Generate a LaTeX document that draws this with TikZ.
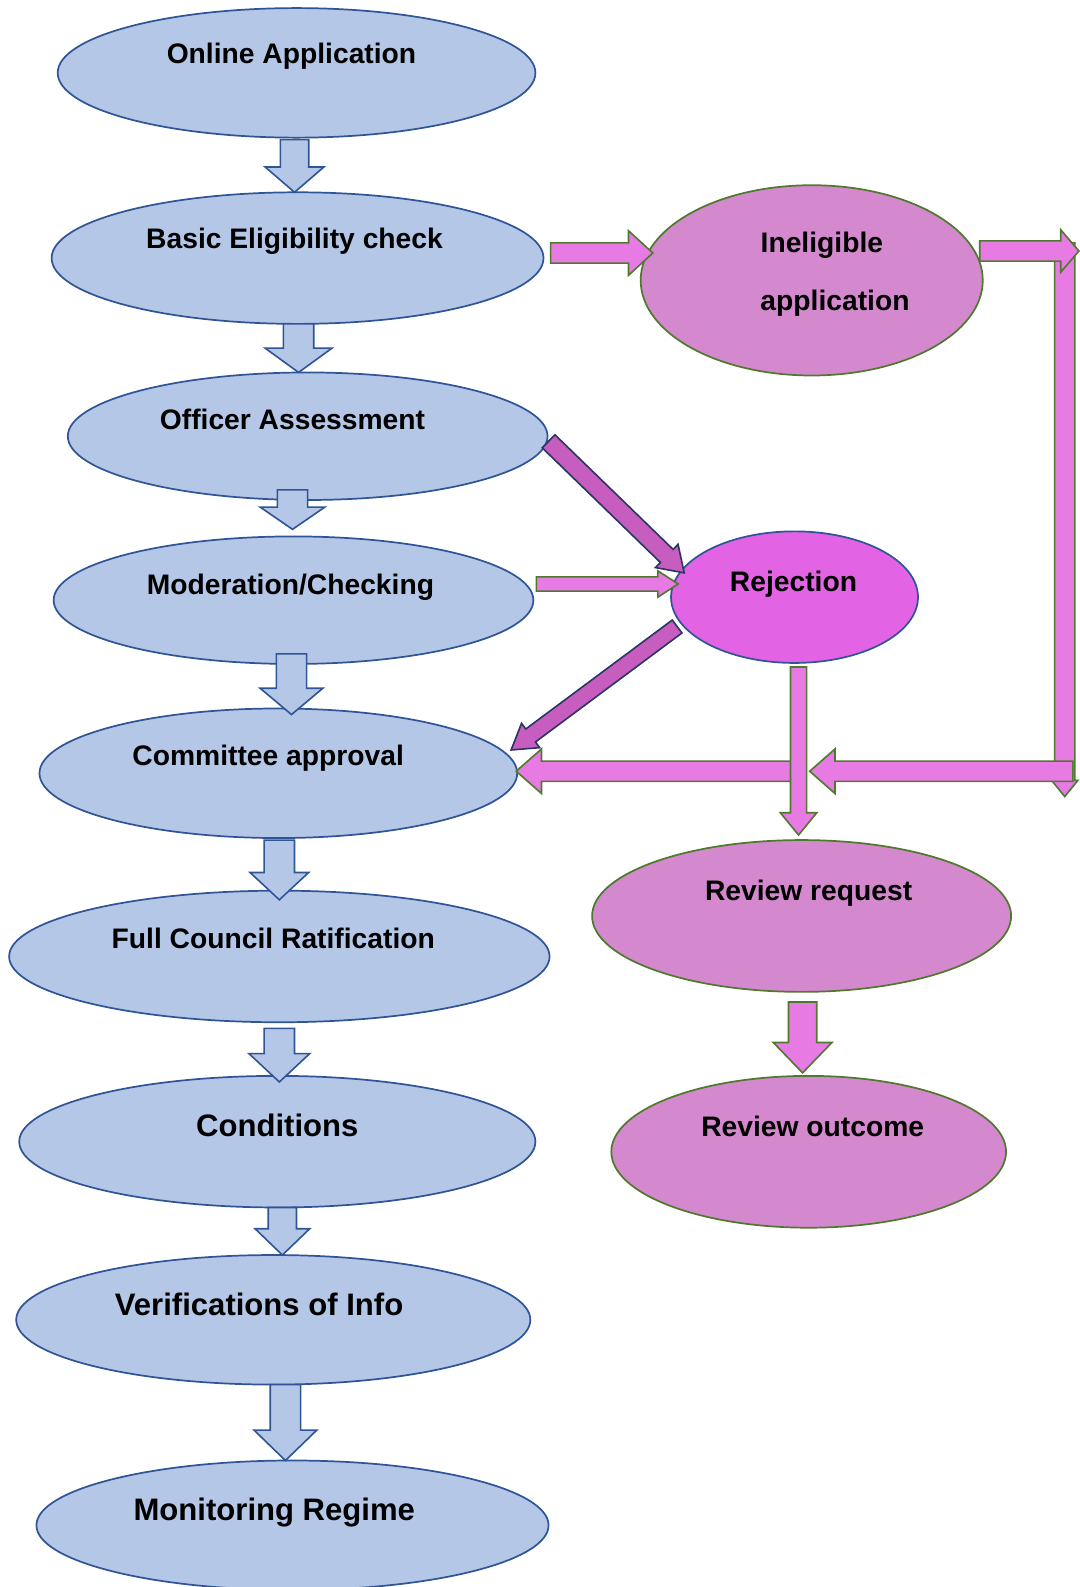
\documentclass[tikz,border=0pt]{standalone}
\usepackage{fontspec}
\setmainfont{Liberation Sans}
\usetikzlibrary{calc,shapes.geometric}
\definecolor{bfill}{HTML}{B4C7E7}
\definecolor{bline}{HTML}{2F5597}
\definecolor{pfill}{HTML}{D488CE}
\definecolor{gline}{HTML}{4F7A2E}
\definecolor{rfill}{HTML}{E263E3}
\definecolor{afill}{HTML}{E77AE3}
\definecolor{dfill}{HTML}{C75DBE}
\definecolor{dline}{HTML}{2B3566}
% block arrow: [style]{start}{end}{shaft half width}{head half width}{head length}
\newcommand\barrow[6][]{%
  \coordinate (ba-n) at ($(#3)!#6!(#2)$);
  \draw[#1] ($(#2)!#4!90:(#3)$) -- ($(ba-n)!#4!90:(#3)$) -- ($(ba-n)!#5!90:(#3)$)
    -- (#3) -- ($(ba-n)!#5!-90:(#3)$) -- ($(ba-n)!#4!-90:(#3)$)
    -- ($(#2)!#4!-90:(#3)$) -- cycle;}
\tikzset{
  bell/.style={ellipse, draw=bline, fill=bfill, line width=1.7pt, inner sep=0pt},
  pell/.style={ellipse, draw=gline, fill=pfill, line width=1.7pt, inner sep=0pt},
  rell/.style={ellipse, draw=bline, fill=rfill, line width=1.7pt, inner sep=0pt},
  txt/.style={font=\bfseries\fontsize{27.9}{30}\selectfont, text height=20pt, text depth=0pt, inner sep=0pt},
  bigtxt/.style={font=\bfseries\fontsize{30.7}{33}\selectfont, text height=22pt, text depth=0pt, inner sep=0pt},
  barr/.style={draw=bline, fill=bfill, line width=1.6pt, line join=miter},
  parr/.style={draw=gline, fill=afill, line width=1.6pt, line join=miter},
  darr/.style={draw=dline, fill=dfill, line width=1.6pt, line join=miter},
}
\begin{document}
\begin{tikzpicture}[x=1pt, y=-1pt]
\useasboundingbox (0,0) rectangle (1067,1568);
% left column ellipses
\node[bell, minimum width=472pt, minimum height=128pt] (e1) at (293,72) {};
\node[bell, minimum width=486pt, minimum height=130pt] (e2) at (294,255) {};
\node[bell, minimum width=474pt, minimum height=126pt] (e3) at (304,431) {};
\node[bell, minimum width=474pt, minimum height=126pt] (e4) at (290,593) {};
\node[bell, minimum width=472pt, minimum height=128pt] (e5) at (275,764) {};
\node[bell, minimum width=534pt, minimum height=130pt] (e6) at (276,945) {};
\node[bell, minimum width=510pt, minimum height=130pt] (e7) at (274,1128) {};
\node[bell, minimum width=508pt, minimum height=128pt] (e8) at (270,1304) {};
\node[bell, minimum width=506pt, minimum height=128pt] (e9) at (289,1507) {};
% right column ellipses
\node[pell, minimum width=338pt, minimum height=188pt] (r1) at (802,277) {};
\node[rell, minimum width=244pt, minimum height=130pt] (r2) at (785,590) {};
\node[pell, minimum width=414pt, minimum height=150pt] (r3) at (792,905) {};
\node[pell, minimum width=390pt, minimum height=150pt] (r4) at (799,1138) {};
% texts
\node[txt] (t1) at (288,53) {Online Application};
\node[txt] (t2) at (291,236) {Basic Eligibility check};
\node[txt] (t3) at (289,414) {Officer Assessment};
\node[txt] (t4) at (287,577) {Moderation/Checking};
\node[txt] (t5) at (265,746) {Committee approval};
\node[txt] (t6) at (270,927) {Full Council Ratification};
\node[bigtxt] (t7) at (274,1112) {Conditions};
\node[bigtxt] (t8) at (256,1289) {Verifications of Info};
\node[bigtxt] (t9) at (271,1491) {Monitoring Regime};
\node[txt] (u1a) at (812,239) {Ineligible};
\node[txt] (u1b) at (825,297) {application};
\node[txt] (u2) at (784,574) {Rejection};
\node[txt] (u3) at (799,880) {Review request};
\node[txt] (u4) at (803,1113) {Review outcome};
% connector end points
\coordinate (a1s) at (291,138);  \coordinate (a1e) at (291,190);
\coordinate (a2s) at (295,320);  \coordinate (a2e) at (295,368);
\coordinate (a3s) at (289,484);  \coordinate (a3e) at (289,523);
\coordinate (a4s) at (288,646);  \coordinate (a4e) at (288,706);
\coordinate (a5s) at (276,830);  \coordinate (a5e) at (276,889);
\coordinate (a6s) at (276,1016); \coordinate (a6e) at (276,1069);
\coordinate (a7s) at (279,1193); \coordinate (a7e) at (279,1240);
\coordinate (a8s) at (282,1368); \coordinate (a8e) at (282,1443);
\coordinate (b1s) at (793,990);  \coordinate (b1e) at (793,1060);
\coordinate (c1s) at (544,250);  \coordinate (c1e) at (645,250);
\coordinate (c2s) at (968,248);  \coordinate (c2e) at (1066,248);
\coordinate (c3s) at (1052,240); \coordinate (c3e) at (1052,787);
\coordinate (c4s) at (1060,762); \coordinate (c4e) at (800,762);
\coordinate (c5s) at (782,762);  \coordinate (c5e) at (510,762);
\coordinate (c6s) at (530,577);  \coordinate (c6e) at (670,577);
\coordinate (d1s) at (542,436);  \coordinate (d1e) at (676,566);
\coordinate (d2s) at (669,619);  \coordinate (d2e) at (505,741);
\coordinate (c7s) at (789,659);  \coordinate (c7e) at (789,825);
% blue down arrows
\barrow[barr]{a1s}{a1e}{14pt}{29pt}{25pt}
\barrow[barr]{a2s}{a2e}{15pt}{33pt}{24pt}
\barrow[barr]{a3s}{a3e}{15pt}{32pt}{22pt}
\barrow[barr]{a4s}{a4e}{15pt}{31pt}{26pt}
\barrow[barr]{a5s}{a5e}{15pt}{29pt}{27pt}
\barrow[barr]{a6s}{a6e}{15pt}{30pt}{28pt}
\barrow[barr]{a7s}{a7e}{14pt}{27pt}{26pt}
\barrow[barr]{a8s}{a8e}{15pt}{31pt}{30pt}
% pink arrows
\barrow[parr]{b1s}{b1e}{14pt}{29pt}{30pt}
\barrow[parr]{c1s}{c1e}{10pt}{22pt}{24pt}
\barrow[parr]{c3s}{c3e}{10pt}{13pt}{16pt}
\barrow[parr]{c2s}{c2e}{10pt}{21pt}{18pt}
\barrow[parr]{c4s}{c4e}{10pt}{22pt}{25pt}
\barrow[parr]{c5s}{c5e}{10pt}{22pt}{25pt}
\barrow[parr]{c6s}{c6e}{7pt}{13pt}{20pt}
\barrow[darr]{d1s}{d1e}{9pt}{16pt}{24pt}
\barrow[darr]{d2s}{d2e}{8pt}{15pt}{24pt}
\barrow[parr]{c7s}{c7e}{8pt}{18pt}{22pt}
\end{tikzpicture}
\end{document}
